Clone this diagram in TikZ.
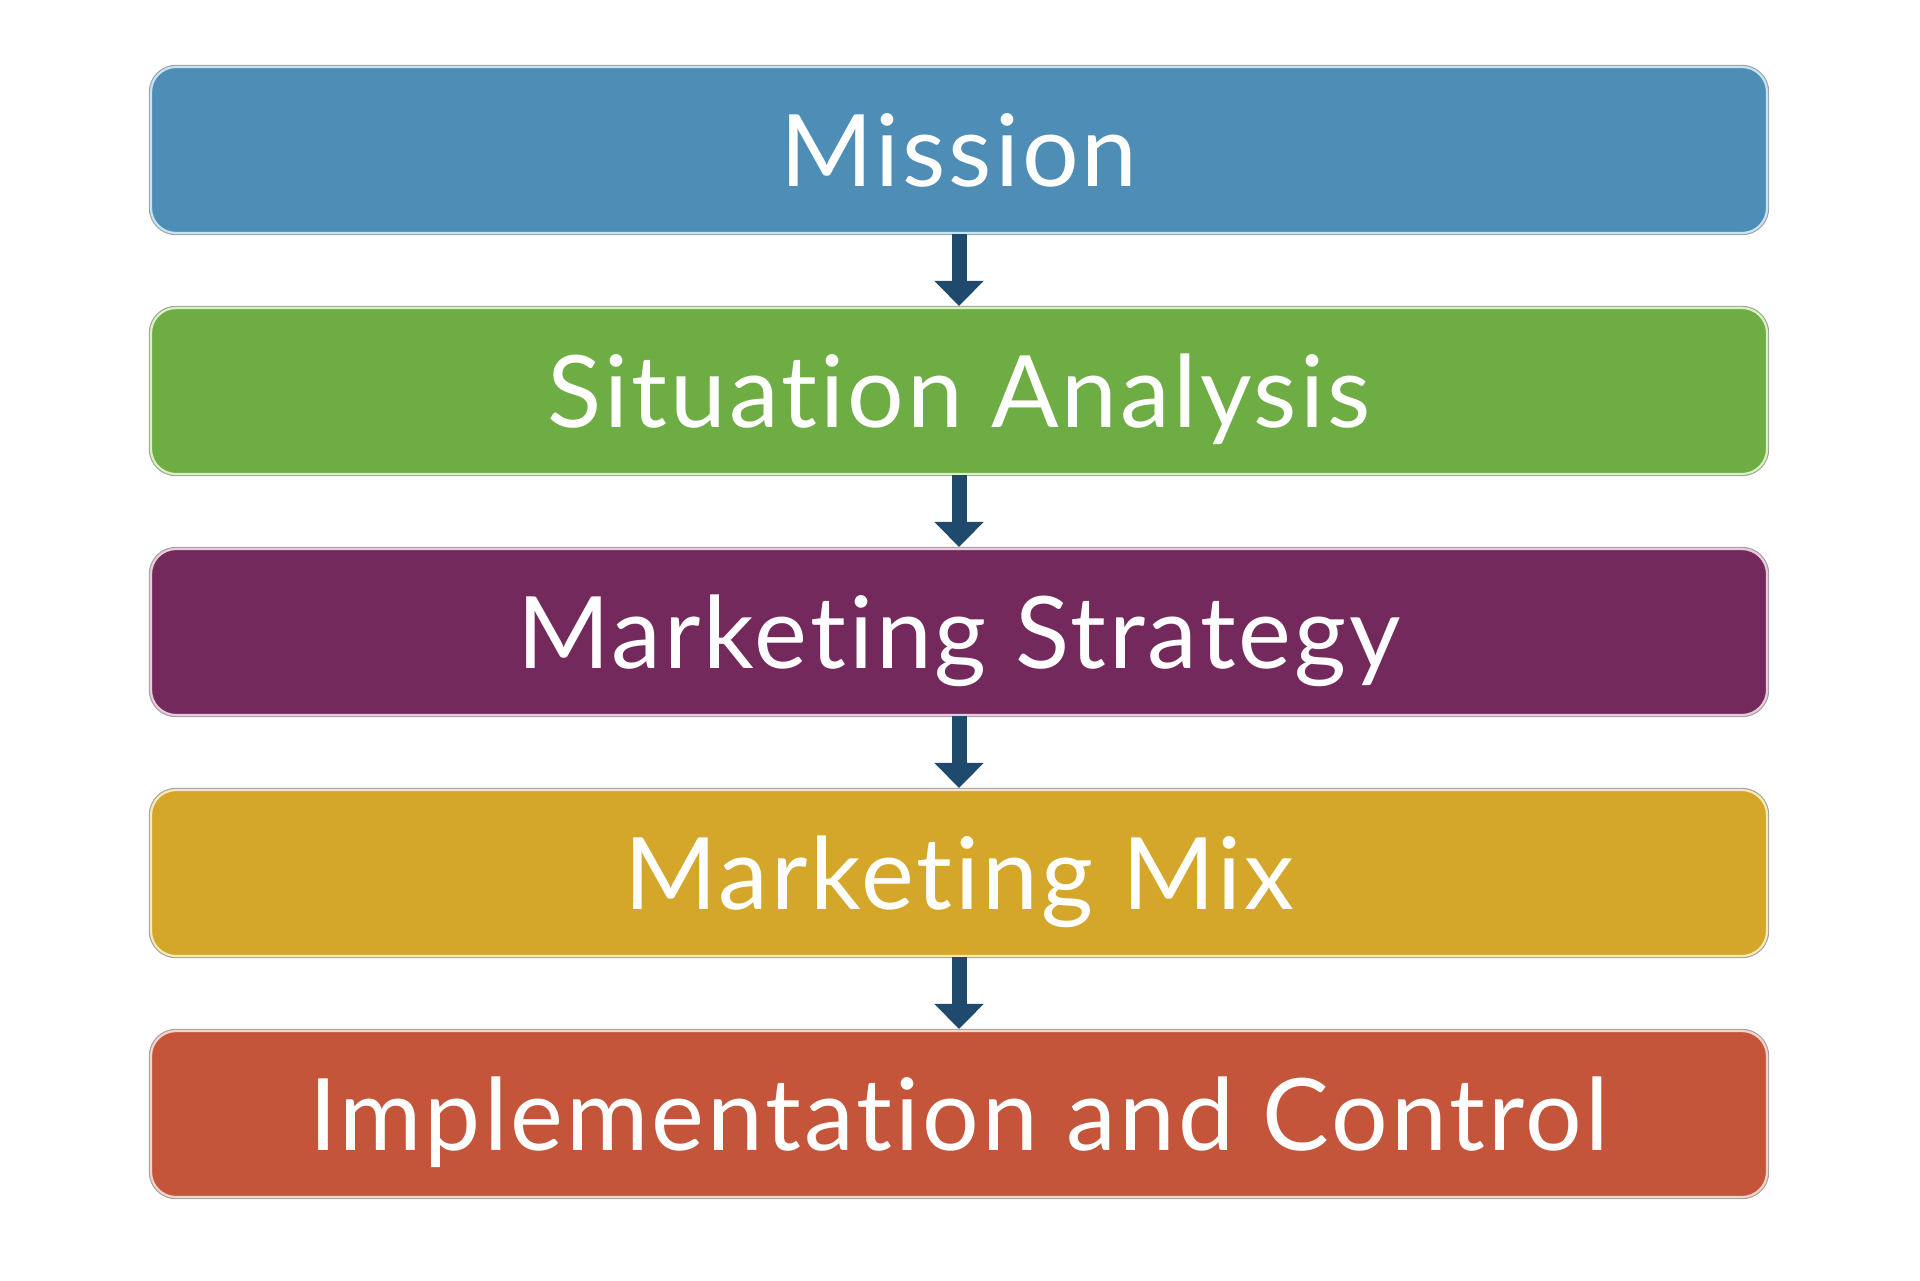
\documentclass[tikz,border=0pt]{standalone}
\usepackage{fontspec}
\setmainfont{Lato}[Ligatures=NoCommon, LetterSpace=3]
\usetikzlibrary{arrows.meta}
\definecolor{cMission}{HTML}{4E8DB5}
\definecolor{cMissionL}{HTML}{C4E4F4}
\definecolor{cSit}{HTML}{6EAD44}
\definecolor{cSitL}{HTML}{D8F2C0}
\definecolor{cStrat}{HTML}{74295D}
\definecolor{cStratL}{HTML}{E8CADC}
\definecolor{cMix}{HTML}{D4A72A}
\definecolor{cMixL}{HTML}{F8EAB4}
\definecolor{cImpl}{HTML}{C4553A}
\definecolor{cImplL}{HTML}{F8D2C6}
\definecolor{cArrow}{HTML}{1F4A6E}
\definecolor{cEdge}{HTML}{A0A0A0}
\tikzset{
  stagebox/.style={rectangle, rounded corners=12.5pt, minimum width=808pt, minimum height=83pt,
    inner sep=0pt, line width=1.1pt, preaction={draw=cEdge, line width=2.2pt},
    text=white, font=\fontsize{50}{60}\selectfont, text height=36pt, text depth=0pt},
  flowarrow/.style={draw=cArrow, line width=7.5pt, -{Triangle[width=24pt,length=12.5pt]}, shorten >=0.5pt}
}
\begin{document}
\begin{tikzpicture}[x=1pt,y=1pt]
\useasboundingbox[fill=white] (0,0) rectangle (960,-640);
\node[stagebox, fill=cMission, draw=cMissionL] (m) at (479.5,-75) {Mission};
\node[stagebox, fill=cSit, draw=cSitL] (s) at (479.5,-195.5) {Situation Analysis};
\node[stagebox, fill=cStrat, draw=cStratL] (st) at (479.5,-316) {Marketing Strategy};
\node[stagebox, fill=cMix, draw=cMixL] (mx) at (479.5,-436.5) {Marketing Mix};
\node[stagebox, fill=cImpl, draw=cImplL] (im) at (479.5,-557) {Implementation and Control};
\draw[flowarrow] (m.south) -- (s.north);
\draw[flowarrow] (s.south) -- (st.north);
\draw[flowarrow] (st.south) -- (mx.north);
\draw[flowarrow] (mx.south) -- (im.north);
\end{tikzpicture}
\end{document}
